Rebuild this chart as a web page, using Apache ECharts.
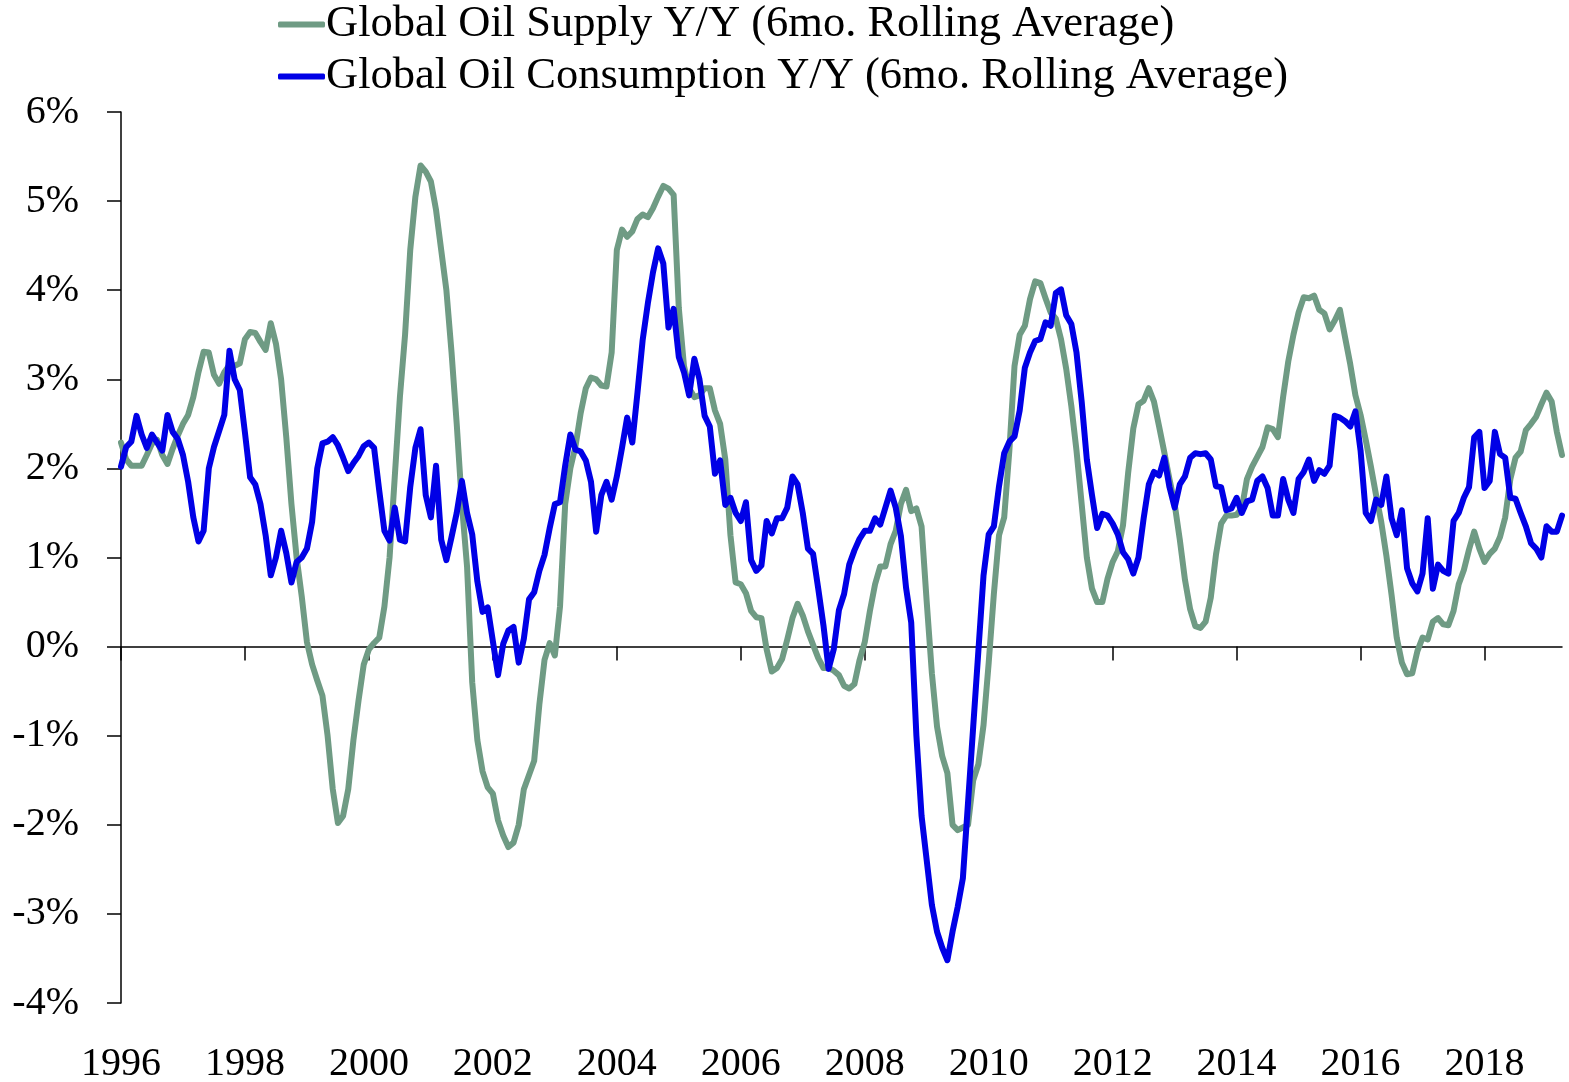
<!DOCTYPE html>
<html>
<head>
<meta charset="utf-8">
<title>Global Oil Supply vs Consumption</title>
<script src="https://cdn.jsdelivr.net/npm/echarts@6/dist/echarts.min.js"></script>
<style>
html, body { margin: 0; padding: 0; background: #fff; }
#chart { width: 1569px; height: 1082px; }
</style>
</head>
<body>
<div id="chart"></div>
<script>
// monthly data, Jan 1996 .. Apr 2019 (% y/y, 6mo rolling avg)
var startYear = 1996;
var yearLabels = ['1996', '1998', '2000', '2002', '2004', '2006', '2008', '2010', '2012', '2014', '2016', '2018'];

var supply = [
    2.29, 2.1, 2.03, 2.03, 2.03, 2.15, 2.28, 2.32, 2.15, 2.05, 2.22, 2.37,    // 1996
    2.5, 2.6, 2.8, 3.08, 3.31, 3.3, 3.05, 2.95, 3.08, 3.16, 3.15, 3.18,       // 1997
    3.45, 3.53, 3.52, 3.42, 3.33, 3.63, 3.4, 3.0, 2.35, 1.6, 1.0, 0.56,       // 1998
    0.05, -0.2, -0.38, -0.55, -1.0, -1.6, -1.98, -1.9, -1.6, -1.05, -0.6, -0.2, // 1999
    -0.03, 0.04, 0.1, 0.45, 1.0, 1.9, 2.8, 3.5, 4.45, 5.05, 5.4, 5.33,        // 2000
    5.22, 4.9, 4.45, 4.0, 3.3, 2.5, 1.6, 0.9, -0.4, -1.05, -1.4, -1.58,       // 2001
    -1.65, -1.95, -2.12, -2.25, -2.2, -2.0, -1.6, -1.44, -1.28, -0.65, -0.15, 0.04, // 2002
    -0.1, 0.45, 1.6, 2.0, 2.25, 2.62, 2.9, 3.02, 3.0, 2.93, 2.92, 3.3,        // 2003
    4.45, 4.68, 4.6, 4.66, 4.8, 4.85, 4.82, 4.92, 5.05, 5.17, 5.14, 5.07,     // 2004
    3.8, 3.15, 2.9, 2.8, 2.82, 2.9, 2.9, 2.65, 2.5, 2.1, 1.25, 0.72,          // 2005
    0.7, 0.6, 0.4, 0.33, 0.32, -0.03, -0.28, -0.24, -0.14, 0.08, 0.32, 0.48,  // 2006
    0.35, 0.17, 0.02, -0.13, -0.24, -0.24, -0.27, -0.32, -0.44, -0.47, -0.42, -0.15, // 2007
    0.05, 0.4, 0.7, 0.9, 0.9, 1.15, 1.3, 1.6, 1.76, 1.52, 1.55, 1.35,         // 2008
    0.5, -0.3, -0.9, -1.23, -1.42, -2.0, -2.06, -2.03, -2.0, -1.5, -1.32, -0.88, // 2009
    -0.18, 0.59, 1.25, 1.45, 2.2, 3.15, 3.5, 3.6, 3.9, 4.1, 4.08, 3.91,       // 2010
    3.75, 3.68, 3.45, 3.12, 2.7, 2.2, 1.6, 1.0, 0.65, 0.5, 0.5, 0.76,         // 2011
    0.95, 1.07, 1.36, 1.95, 2.45, 2.72, 2.76, 2.9, 2.75, 2.47, 2.18, 1.88,    // 2012
    1.6, 1.2, 0.75, 0.42, 0.23, 0.21, 0.28, 0.55, 1.03, 1.38, 1.47, 1.47,     // 2013
    1.48, 1.55, 1.88, 2.02, 2.13, 2.24, 2.46, 2.44, 2.35, 2.8, 3.2, 3.5,      // 2014
    3.75, 3.92, 3.91, 3.94, 3.78, 3.74, 3.56, 3.66, 3.78, 3.47, 3.17, 2.82,   // 2015
    2.6, 2.32, 2.02, 1.7, 1.4, 1.02, 0.58, 0.1, -0.18, -0.31, -0.3, -0.05,    // 2016
    0.1, 0.08, 0.28, 0.32, 0.25, 0.24, 0.4, 0.7, 0.86, 1.09, 1.29, 1.1,       // 2017
    0.95, 1.04, 1.1, 1.23, 1.45, 1.88, 2.12, 2.19, 2.43, 2.5, 2.58, 2.72,     // 2018
    2.85, 2.75, 2.41, 2.15                                                    // 2019
];

var consumption = [
    2.02, 2.24, 2.3, 2.59, 2.38, 2.23, 2.38, 2.29, 2.2, 2.6, 2.41, 2.33,      // 1996
    2.15, 1.85, 1.45, 1.18, 1.3, 2.0, 2.24, 2.42, 2.6, 3.32, 3.0, 2.88,       // 1997
    2.4, 1.9, 1.82, 1.6, 1.25, 0.8, 1.0, 1.3, 1.05, 0.72, 0.95, 1.0,          // 1998
    1.1, 1.4, 2.0, 2.28, 2.3, 2.35, 2.26, 2.12, 1.97, 2.06, 2.14, 2.25,       // 1999
    2.29, 2.23, 1.75, 1.3, 1.19, 1.56, 1.2, 1.18, 1.79, 2.23, 2.44, 1.7,      // 2000
    1.45, 2.03, 1.2, 0.97, 1.23, 1.5, 1.86, 1.5, 1.26, 0.73, 0.39, 0.44,      // 2001
    0.06, -0.32, 0.03, 0.18, 0.22, -0.18, 0.09, 0.53, 0.61, 0.85, 1.03, 1.33, // 2002
    1.6, 1.62, 2.03, 2.38, 2.21, 2.19, 2.09, 1.85, 1.29, 1.7, 1.85, 1.65,     // 2003
    1.91, 2.23, 2.57, 2.29, 2.85, 3.44, 3.85, 4.2, 4.47, 4.3, 3.58, 3.79,     // 2004
    3.25, 3.08, 2.82, 3.23, 3.0, 2.59, 2.47, 1.94, 2.09, 1.59, 1.67, 1.5,     // 2005
    1.41, 1.62, 0.97, 0.85, 0.91, 1.41, 1.27, 1.44, 1.44, 1.56, 1.91, 1.82,   // 2006
    1.5, 1.1, 1.04, 0.65, 0.24, -0.25, -0.03, 0.41, 0.59, 0.92, 1.08, 1.21,   // 2007
    1.3, 1.3, 1.44, 1.37, 1.56, 1.75, 1.56, 1.24, 0.66, 0.27, -1.0, -1.9,     // 2008
    -2.4, -2.9, -3.2, -3.38, -3.52, -3.2, -2.92, -2.6, -1.75, -0.9, -0.05, 0.8, // 2009
    1.26, 1.35, 1.8, 2.17, 2.3, 2.36, 2.65, 3.13, 3.3, 3.43, 3.45, 3.64,      // 2010
    3.6, 3.97, 4.01, 3.72, 3.62, 3.3, 2.75, 2.1, 1.7, 1.33, 1.49, 1.47,       // 2011
    1.38, 1.26, 1.06, 0.98, 0.82, 1.0, 1.44, 1.82, 1.96, 1.92, 2.12, 1.79,    // 2012
    1.56, 1.82, 1.91, 2.12, 2.17, 2.16, 2.17, 2.1, 1.8, 1.79, 1.53, 1.55,     // 2013
    1.67, 1.5, 1.63, 1.65, 1.86, 1.91, 1.78, 1.47, 1.47, 1.88, 1.65, 1.5,     // 2014
    1.88, 1.96, 2.1, 1.86, 1.98, 1.94, 2.03, 2.59, 2.57, 2.53, 2.47, 2.64,    // 2015
    2.2, 1.5, 1.41, 1.65, 1.59, 1.91, 1.44, 1.25, 1.53, 0.88, 0.71, 0.62,     // 2016
    0.82, 1.44, 0.65, 0.92, 0.85, 0.82, 1.41, 1.5, 1.67, 1.79, 2.35, 2.41,    // 2017
    1.78, 1.86, 2.41, 2.16, 2.12, 1.67, 1.66, 1.5, 1.35, 1.16, 1.1, 1.0,      // 2018
    1.35, 1.29, 1.29, 1.47                                                    // 2019
];

var supplyName = 'Global Oil Supply Y/Y (6mo. Rolling Average)';
var consName = 'Global Oil Consumption Y/Y (6mo. Rolling Average)';

// month categories, '1996-01' ...
var months = [];
for (var i = 0; i < supply.length; i++) {
    var y = startYear + Math.floor(i / 12);
    var mo = (i % 12) + 1;
    months.push(y + '-' + (mo < 10 ? '0' + mo : mo));
}

var font = "'Liberation Serif', 'Times New Roman', serif";
var green = '#6f9b84';
var blue = '#0000e6';

var chart = echarts.init(document.getElementById('chart'));
chart.setOption({
    animation: false,
    backgroundColor: '#fff',
    grid: {
        left: 121,
        right: 7,
        top: 112,
        bottom: 79,
        outerBoundsMode: 'none'
    },
    legend: [
        {
            data: [supplyName],
            left: 278,
            top: 2,
            padding: 0,
            icon: 'roundRect',
            itemWidth: 47,
            itemHeight: 6,
            textStyle: { fontFamily: font, fontSize: 44.5, color: '#000', padding: [0, 0, 0, -4] }
        },
        {
            data: [consName],
            left: 278,
            top: 54,
            padding: 0,
            icon: 'roundRect',
            itemWidth: 47,
            itemHeight: 6,
            textStyle: { fontFamily: font, fontSize: 44.5, color: '#000', padding: [0, 0, 0, -4] }
        }
    ],
    xAxis: [
        {
            // axis line at zero with ticks
            type: 'category',
            data: months,
            boundaryGap: false,
            position: 'bottom',
            axisLine: { onZero: true, lineStyle: { color: '#000', width: 1.5 } },
            axisTick: { interval: 23, length: 14, lineStyle: { color: '#000', width: 1.5 } },
            axisLabel: { show: false },
            splitLine: { show: false }
        },
        {
            // year labels at the bottom
            type: 'category',
            data: months,
            boundaryGap: false,
            position: 'bottom',
            axisLine: { show: false, onZero: false },
            axisTick: { show: false },
            splitLine: { show: false },
            axisLabel: {
                interval: 23,
                margin: 41,
                fontFamily: font,
                fontSize: 40,
                color: '#000',
                formatter: function (v) {
                    var y = v.slice(0, 4);
                    return yearLabels.indexOf(y) >= 0 ? y : '';
                }
            }
        }
    ],
    yAxis: {
        type: 'value',
        min: -4,
        max: 6,
        interval: 1,
        axisLine: { show: true, lineStyle: { color: '#000', width: 1.5 } },
        axisTick: { show: true, length: 14, lineStyle: { color: '#000', width: 1.5 } },
        splitLine: { show: false },
        axisLabel: {
            margin: 42,
            fontFamily: font,
            fontSize: 40,
            color: '#000',
            padding: [7, 0, 0, 0],
            formatter: '{value}%'
        }
    },
    series: [
        {
            name: supplyName,
            type: 'line',
            data: supply,
            showSymbol: false,
            symbol: 'none',
            color: green,
            lineStyle: { color: green, width: 6, cap: 'round', join: 'round' }
        },
        {
            name: consName,
            type: 'line',
            data: consumption,
            showSymbol: false,
            symbol: 'none',
            color: blue,
            lineStyle: { color: blue, width: 6, cap: 'round', join: 'round' }
        }
    ]
});

window.addEventListener('resize', function () {
    chart.resize();
});
</script>
</body>
</html>
